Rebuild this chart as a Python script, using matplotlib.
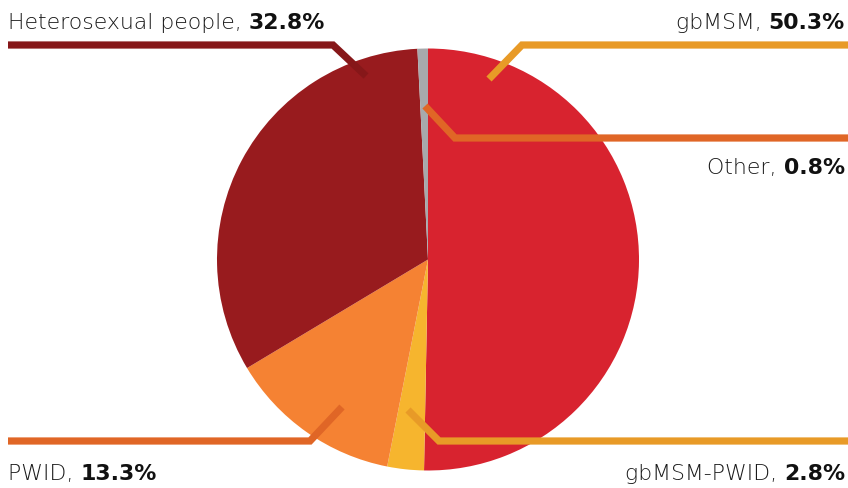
import matplotlib.pyplot as plt

# Share of new diagnoses by exposure category
groups = ["gbMSM", "gbMSM-PWID", "PWID", "Heterosexual people", "Other"]
shares = [50.3, 2.8, 13.3, 32.8, 0.8]
slice_colors = ["#D8232F", "#F6B52E", "#F58233", "#981B1E", "#A7A9AC"]
line_colors = ["#E89A27", "#E89A27", "#E06626", "#861719", "#E06626"]

W, H = 848, 489

# Leader layout in pixel space (origin top-left): inner end, elbow, outer end, text anchor
leaders = {
    "gbMSM":               [(489, 80), (522, 46), (848, 46), (845, 29, "right")],
    "gbMSM-PWID":          [(408, 411), (439, 442), (848, 442), (845, 480.5, "right")],
    "PWID":                [(342, 408), (310, 442), (8, 442), (8, 480.5, "left")],
    "Heterosexual people": [(366, 77), (333, 46), (8, 46), (8, 29, "left")],
    "Other":               [(425, 107), (455, 139), (848, 139), (845, 174, "right")],
}

family = "DejaVu Sans"
size = 15.8
fig = plt.figure(figsize=(W / 100, H / 100), dpi=100)
ax = fig.add_axes([0, 0, 1, 1])

ax.pie(shares, colors=slice_colors, startangle=90, counterclock=False,
       center=(428, H - 260.5), radius=211, frame=True,
       wedgeprops=dict(linewidth=0))

ax.set_xlim(0, W)
ax.set_ylim(0, H)
ax.set_aspect("equal")
ax.axis("off")

for name, val, lc in zip(groups, shares, line_colors):
    p_in, p_elb, p_out, (tx, ty, ha) = leaders[name]
    xs = [p_in[0], p_elb[0], p_out[0]]
    ys = [H - p_in[1], H - p_elb[1], H - p_out[1]]
    ax.plot(xs, ys, color=lc, lw=5.2, solid_capstyle="butt",
            solid_joinstyle="miter", zorder=3)

    light = f"{name}, "
    bold = f"{val:.1f}%"
    if ha == "left":
        t = ax.text(tx, H - ty, light, ha="left", va="baseline",
                    fontsize=size, fontweight="light", family=family,
                    color="#1a1a1a")
        ax.annotate(bold, xy=(1, 0), xycoords=t, ha="left", va="bottom",
                    fontsize=size, fontweight="bold", family=family,
                    color="#111111")
    else:
        t = ax.text(tx, H - ty, bold, ha="right", va="baseline",
                    fontsize=size, fontweight="bold", family=family,
                    color="#111111")
        ax.annotate(light, xy=(0, 0), xycoords=t, ha="right", va="bottom",
                    fontsize=size, fontweight="light", family=family,
                    color="#1a1a1a")

fig.savefig("out.png", dpi=100)
